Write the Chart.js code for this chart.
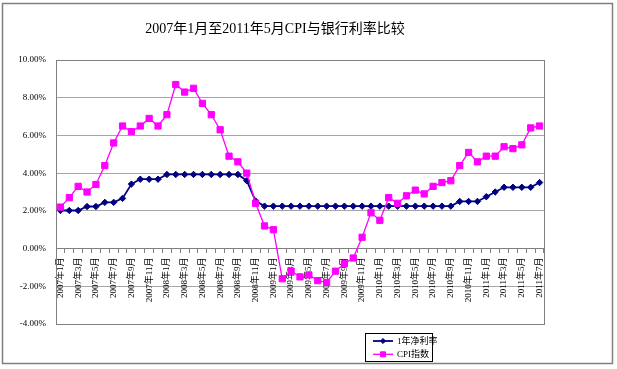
<!DOCTYPE html>
<html><head><meta charset="utf-8">
<script src="https://cdn.jsdelivr.net/npm/chart.js@4"></script>
<style>html,body{margin:0;padding:0;background:#fff;}canvas{display:block;}</style>
</head><body>
<canvas id="c" width="617" height="369"></canvas>
<script>
const titleText = '2007年1月至2011年5月CPI与银行利率比较';
const seriesNames = ['1年净利率', 'CPI指数'];
const categories = [
 '2007年1月','2007年2月','2007年3月','2007年4月','2007年5月','2007年6月','2007年7月','2007年8月','2007年9月','2007年10月','2007年11月','2007年12月',
 '2008年1月','2008年2月','2008年3月','2008年4月','2008年5月','2008年6月','2008年7月','2008年8月','2008年9月','2008年10月','2008年11月','2008年12月',
 '2009年1月','2009年2月','2009年3月','2009年4月','2009年5月','2009年6月','2009年7月','2009年8月','2009年9月','2009年10月','2009年11月','2009年12月',
 '2010年1月','2010年2月','2010年3月','2010年4月','2010年5月','2010年6月','2010年7月','2010年8月','2010年9月','2010年10月','2010年11月','2010年12月',
 '2011年1月','2011年2月','2011年3月','2011年4月','2011年5月','2011年6月','2011年7月'
];
const rateValues = [
 2.02,2.02,2.02,2.23,2.23,2.45,2.45,2.66,3.42,3.68,3.68,3.68,
 3.93,3.93,3.93,3.93,3.93,3.93,3.93,3.93,3.93,3.60,2.52,2.25,
 2.25,2.25,2.25,2.25,2.25,2.25,2.25,2.25,2.25,2.25,2.25,2.25,
 2.25,2.25,2.25,2.25,2.25,2.25,2.25,2.25,2.25,2.50,2.50,2.50,
 2.75,3.00,3.25,3.25,3.25,3.25,3.50
];
const cpiValues = [
 2.2,2.7,3.3,3.0,3.4,4.4,5.6,6.5,6.2,6.5,6.9,6.5,
 7.1,8.7,8.3,8.5,7.7,7.1,6.3,4.9,4.6,4.0,2.4,1.2,
 1.0,-1.6,-1.2,-1.5,-1.4,-1.7,-1.8,-1.2,-0.8,-0.5,0.6,1.9,
 1.5,2.7,2.4,2.8,3.1,2.9,3.3,3.5,3.6,4.4,5.1,4.6,
 4.9,4.9,5.4,5.3,5.5,6.4,6.5
];
const yMin = -4, yMax = 10, yStep = 2;

const FONT = '"Liberation Serif", "Noto Sans CJK SC", serif';
const GRID = '#a6a6a6';
const AXIS = '#808080';

const framePlugin = {
  id: 'framePlugin',
  beforeDraw(chart) {
    const ctx = chart.ctx;
    ctx.save();
    ctx.fillStyle = '#fff';
    ctx.fillRect(0, 0, chart.width, chart.height);
    ctx.restore();
  },
  beforeDatasetsDraw(chart) {
    const a = chart.chartArea, ctx = chart.ctx;
    ctx.save();
    ctx.strokeStyle = AXIS;
    ctx.lineWidth = 1;
    ctx.strokeRect(Math.round(a.left) + 0.5, Math.round(a.top) + 0.5, Math.round(a.right - a.left), Math.round(a.bottom - a.top));
    ctx.restore();
  },
  afterDraw(chart) {
    const ctx = chart.ctx;
    ctx.save();
    ctx.strokeStyle = '#7f7f7f';
    ctx.lineWidth = 1.5;
    ctx.strokeRect(2.5, 3.5, 610, 360);
    const lx = 365.5, ly = 333.5, lw = 67, lh = 28;
    ctx.fillStyle = '#fff';
    ctx.fillRect(lx, ly, lw, lh);
    ctx.strokeStyle = '#000';
    ctx.lineWidth = 1;
    ctx.strokeRect(lx, ly, lw, lh);
    chart.data.datasets.forEach((ds, i) => {
      const y = 341 + i * 13.3;
      ctx.strokeStyle = ds.borderColor;
      ctx.lineWidth = ds.borderWidth;
      ctx.beginPath();
      ctx.moveTo(373, y);
      ctx.lineTo(393, y);
      ctx.stroke();
      ctx.fillStyle = ds.pointBackgroundColor;
      ctx.strokeStyle = ds.pointBorderColor;
      ctx.lineWidth = 1;
      Chart.helpers.drawPoint(ctx, {pointStyle: ds.pointStyle, radius: ds.pointRadius * 0.8, rotation: 0, borderWidth: 1}, 383, y);
      ctx.fillStyle = '#000';
      ctx.font = '9px ' + FONT;
      ctx.textBaseline = 'middle';
      ctx.textAlign = 'left';
      ctx.fillText(ds.label, 397, y + 0.5);
    });
    ctx.restore();
  }
};

new Chart(document.getElementById('c'), {
  type: 'line',
  data: {
    labels: categories,
    datasets: [
      {
        label: seriesNames[0], data: rateValues, order: 1,
        borderColor: '#000080', backgroundColor: '#000080', borderWidth: 1.8,
        pointStyle: 'rectRot', pointRadius: 3.2, pointBackgroundColor: '#000080', pointBorderColor: '#000080', pointBorderWidth: 1,
        tension: 0, fill: false
      },
      {
        label: seriesNames[1], data: cpiValues, order: 0,
        borderColor: '#ff00ff', backgroundColor: '#ff00ff', borderWidth: 1.3,
        pointStyle: 'rect', pointRadius: 4.4, pointBackgroundColor: '#ff00ff', pointBorderColor: '#ff00ff', pointBorderWidth: 1,
        tension: 0, fill: false
      }
    ]
  },
  options: {
    responsive: false,
    animation: false,
    devicePixelRatio: 1,
    layout: {padding: {left: 6, right: 73, top: 0, bottom: 45}},
    plugins: {
      legend: {display: false},
      tooltip: {enabled: false},
      title: {
        display: true, text: titleText, color: '#000',
        font: {family: FONT, size: 14, weight: 'normal'},
        padding: {top: 21, bottom: 22.2}
      }
    },
    scales: {
      x: {
        type: 'category', offset: true, position: {y: 0},
        grid: {display: true, drawOnChartArea: false, drawTicks: true, tickLength: 4, color: AXIS, offset: true},
        border: {display: true, color: AXIS, width: 1},
        ticks: {
          autoSkip: false, maxRotation: 90, minRotation: 90, padding: 5, color: '#000',
          font: {family: FONT, size: 9},
          callback: function(v, i) { return i % 2 === 0 ? this.getLabelForValue(v) : ''; }
        }
      },
      y: {
        min: yMin, max: yMax,
        afterFit: (s) => { s.width = 50; },
        grid: {color: GRID, drawTicks: false},
        border: {display: true, color: AXIS},
        ticks: {
          stepSize: yStep, padding: 10, color: '#000',
          font: {family: FONT, size: 9},
          callback: (v) => v.toFixed(2) + '%'
        }
      }
    }
  },
  plugins: [framePlugin]
});
</script>
</body></html>
